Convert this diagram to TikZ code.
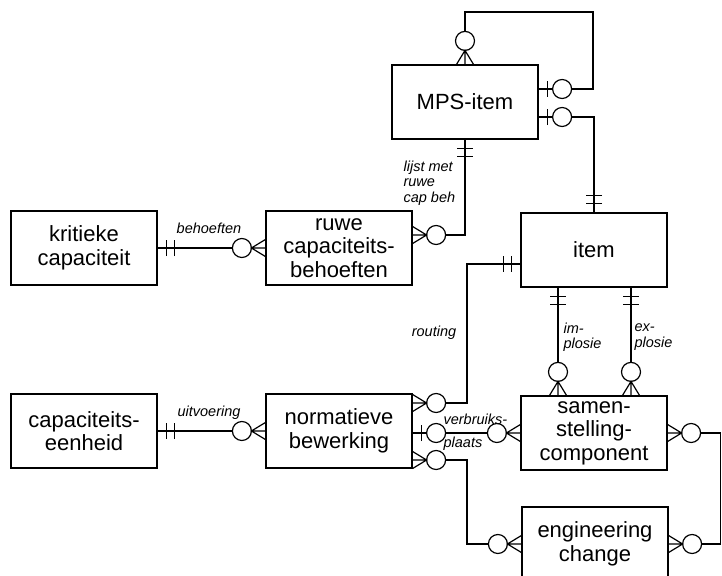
\documentclass[tikz,border=0pt]{standalone}
\usepackage{fontspec}
\setmainfont{Liberation Sans}
\usetikzlibrary{calc}
\tikzset{
  ent/.style={draw, line width=1.2pt, minimum width=146pt, minimum height=74pt,
    inner sep=0pt, align=center, font=\fontsize{22}{23.5}\selectfont},
  lbl/.style={font=\fontsize{14.5}{15.5}\selectfont\itshape, inner sep=0pt},
  crowO/.pic={\draw (0,8.5)--(14,0)--(0,-8.5) (0,0)--(14,0);
              \draw (23.5,0) circle[radius=9.5];},
  barO/.pic={\draw (8.5,8)--(8.5,-8) (0,0)--(14,0);
             \draw (23.5,0) circle[radius=9.5];},
  bars2/.pic={\draw (9,8)--(9,-8) (17,8)--(17,-8);},
}
\begin{document}
\begin{tikzpicture}[x=1pt,y=-1pt,line width=1.2pt]
\useasboundingbox (0,0) rectangle (722,575);
% entities
\node[ent] (mps)  at (465,102) {MPS-item};
\node[ent] (item) at (594,250) {item};
\node[ent] (ruwe) at (339,248) {ruwe\\capaciteits-\\behoeften};
\node[ent] (krit) at (84,248) {kritieke\\capaciteit};
\node[ent] (cap)  at (84,431) {capaciteits-\\eenheid};
\node[ent] (norm) at (339,431) {normatieve\\bewerking};
\node[ent] (sam)  at (594,433) {samen-\\stelling-\\component};
\node[ent] (eng)  at (595,544) {engineering\\change};
\coordinate (rx) at (467,0);
% A: MPS self loop
\coordinate (a1) at ($(mps.east)+(0,-13)$);
\pic[rotate=90] at (mps.north) {crowO};
\pic at (a1) {barO};
\coordinate (a2) at (593,12);
\draw ($(mps.north)+(0,-33)$) |- (a2) |- ($(a1)+(33,0)$);
% B: MPS - item
\coordinate (b1) at ($(mps.east)+(0,15)$);
\pic at (b1) {barO};
\pic[rotate=90] at (item.north) {bars2};
\draw ($(b1)+(33,0)$) -| (item.north);
% C: MPS - ruwe
\coordinate (c1) at ($(ruwe.east)+(0,-13)$);
\pic[rotate=-90] at (mps.south) {bars2};
\pic at (c1) {crowO};
\draw (mps.south) |- ($(c1)+(33,0)$);
% D: kritieke - ruwe
\pic at (krit.east) {bars2};
\pic[rotate=180] at (ruwe.west) {crowO};
\draw (krit.east) -- ($(ruwe.west)+(-33,0)$);
% E: item - normatieve (routing)
\coordinate (e1) at ($(item.west)+(0,14)$);
\coordinate (e2) at ($(norm.east)+(0,-28)$);
\pic[rotate=180] at (e1) {bars2};
\pic at (e2) {crowO};
\draw (e1) -| (rx |- e2) -- ($(e2)+(33,0)$);
% F: item - samenstelling (implosie / explosie)
\coordinate (f1) at ($(item.south)+(-36,0)$);
\coordinate (f2) at ($(item.south)+(37,0)$);
\coordinate (g1) at (f1 |- sam.north);
\coordinate (g2) at (f2 |- sam.north);
\pic[rotate=-90] at (f1) {bars2};
\pic[rotate=-90] at (f2) {bars2};
\pic[rotate=90] at (g1) {crowO};
\pic[rotate=90] at (g2) {crowO};
\draw (f1) -- ($(g1)+(0,-33)$);
\draw (f2) -- ($(g2)+(0,-33)$);
% G: normatieve - samenstelling (verbruiksplaats)
\coordinate (h1) at ($(norm.east)+(0,2)$);
\pic at (h1) {barO};
\pic[rotate=180] at (sam.west) {crowO};
\draw ($(h1)+(33,0)$) -- ($(sam.west)+(-33,0)$);
% H: normatieve - engineering change
\coordinate (i1) at ($(norm.east)+(0,29)$);
\pic at (i1) {crowO};
\pic[rotate=180] at (eng.west) {crowO};
\draw ($(i1)+(33,0)$) -- (rx |- i1) |- ($(eng.west)+(-33,0)$);
% I: samenstelling - engineering change
\coordinate (j1) at (720.5,433);
\pic at (sam.east) {crowO};
\pic at (eng.east) {crowO};
\draw ($(sam.east)+(33,0)$) -- (j1) |- ($(eng.east)+(33,0)$);
% J: capaciteitseenheid - normatieve
\pic at (cap.east) {bars2};
\pic[rotate=180] at (norm.west) {crowO};
\draw (cap.east) -- ($(norm.west)+(-33,0)$);
% labels
\node[lbl] (lb1) at (209,228) {behoeften};
\node[lbl] (lb2) at (209,413) {uitvoering};
\node[lbl, align=left, anchor=west] (lb3) at (403,183) {lijst met\\ruwe\\cap beh};
\node[lbl] (lb4) at (434,333) {routing};
\node[lbl, align=left, anchor=west] (lb5) at (563,337) {im-\\plosie};
\node[lbl, align=left, anchor=west] (lb6) at (634,337) {ex-\\plosie};
\node[lbl, anchor=west] (lb7) at (443,419) {verbruiks-};
\node[lbl, anchor=west] (lb8) at (443,444) {plaats};
\end{tikzpicture}
\end{document}
